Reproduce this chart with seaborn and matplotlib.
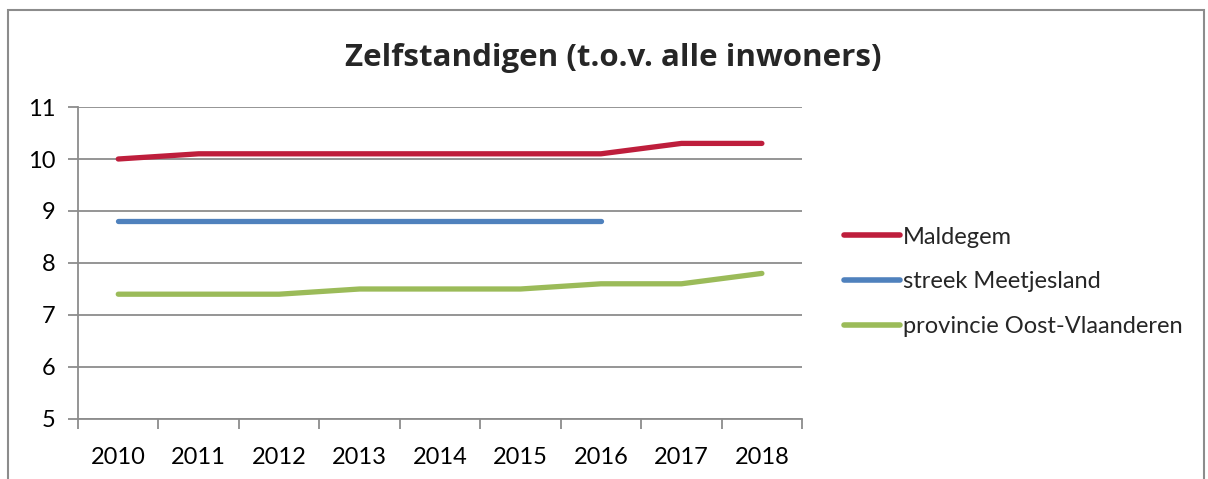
import matplotlib.pyplot as plt
import matplotlib.patches as mpatches
import pandas as pd
import seaborn as sns
import numpy as np

# data
years = ['2010', '2011', '2012', '2013', '2014', '2015', '2016', '2017', '2018']
maldegem = [10.0, 10.1, 10.1, 10.1, 10.1, 10.1, 10.1, 10.3, 10.3]
meetjesland = [8.8, 8.8, 8.8, 8.8, 8.8, 8.8, 8.8, np.nan, np.nan]
oost_vl = [7.4, 7.4, 7.4, 7.5, 7.5, 7.5, 7.6, 7.6, 7.8]
series_names = ['Maldegem', 'streek Meetjesland', 'provincie Oost-Vlaanderen']
colors = ['#BE1E3C', '#4F81BD', '#9BBB59']

rows = []
for name, vals in zip(series_names, [maldegem, meetjesland, oost_vl]):
    for i, v in enumerate(vals):
        rows.append({'idx': i, 'value': v, 'reeks': name})
df = pd.DataFrame(rows).dropna()

sns.set_style('white')
plt.rcParams['font.family'] = ['Lato', 'DejaVu Sans']

fig = plt.figure(figsize=(12.08, 4.79), dpi=100)
ax = fig.add_axes([0.0646, 0.1253, 0.5994, 0.6513])

sns.lineplot(data=df, x='idx', y='value', hue='reeks', hue_order=series_names,
             palette=colors, linewidth=3.8, ax=ax, legend=True,
             solid_capstyle='round')

grid_col = '#8C8C8C'
ax.set_ylim(5, 11)
ax.set_yticks(range(5, 12))
ax.set_xlim(-0.5, len(years) - 0.5)
ax.set_xticks(np.arange(len(years)))
ax.set_xticklabels(years)
ax.set_xticks(np.arange(-0.5, len(years)), minor=True)
ax.yaxis.grid(True, color=grid_col, linewidth=1.3)
ax.set_axisbelow(True)
ax.tick_params(axis='x', which='major', bottom=True, length=0, pad=20, labelsize=17,
               labelcolor='black')
ax.tick_params(axis='x', which='minor', bottom=True, length=7, width=1.3, color=grid_col,
               direction='out')
ax.tick_params(axis='y', left=True, length=7, width=1.3, color=grid_col, direction='out',
               pad=9, labelsize=17, labelcolor='black')
ax.set_xlabel('')
ax.set_ylabel('')
for s in ['top', 'right']:
    ax.spines[s].set_visible(False)
for s in ['left', 'bottom']:
    ax.spines[s].set_color(grid_col)
    ax.spines[s].set_linewidth(1.3)

leg = ax.legend(loc='center left', bbox_to_anchor=(1.028, 0.44), frameon=False,
                fontsize=17, handlelength=2.4, handletextpad=0.1, labelspacing=1.0)
for line in leg.get_lines():
    line.set_linewidth(4)
    line.set_solid_capstyle('round')

fig.text(0.508, 0.878, 'Zelfstandigen (t.o.v. alle inwoners)', ha='center', va='center',
         fontsize=22.5, fontweight='bold', family=['Open Sans', 'DejaVu Sans'])

# outer chart frame
fig.patches.append(mpatches.Rectangle((8 / 1208, -0.05), 1196 / 1208, 1 - 10 / 479 + 0.05,
                                      transform=fig.transFigure, fill=False,
                                      edgecolor='#8C8C8C', linewidth=1.5))

fig.savefig('out.png', dpi=100)
